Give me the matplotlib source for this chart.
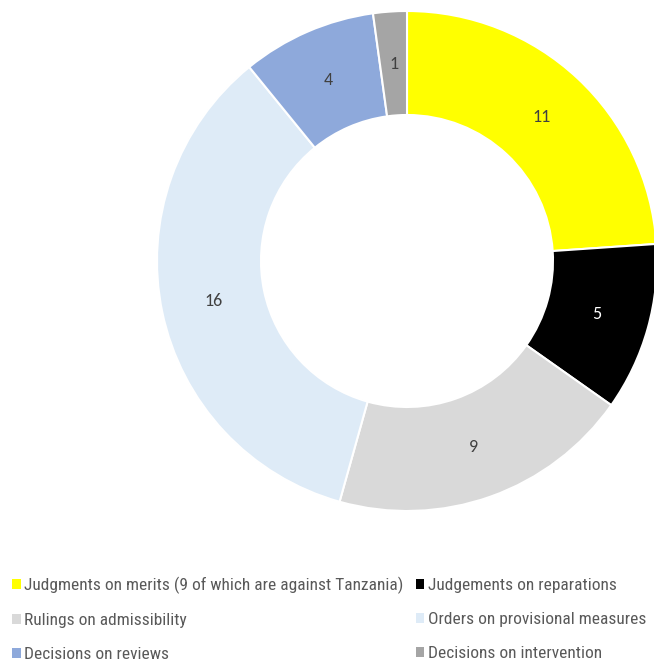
import numpy as np
import matplotlib.pyplot as plt
from matplotlib.patches import Patch

labels = ['Judgments on merits (9 of which are against Tanzania)',
          'Judgements on reparations',
          'Rulings on admissibility',
          'Orders on provisional measures',
          'Decisions on reviews',
          'Decisions on intervention']
counts = [11, 5, 9, 16, 4, 1]
colors = ['#FFFF00', '#000000', '#D9D9D9', '#DEEBF7', '#8EA9DB', '#A5A5A5']
label_colors = ['#404040', '#FFFFFF', '#404040', '#404040', '#404040', '#404040']

fig = plt.figure(figsize=(6.54, 6.62), dpi=100)
ax = fig.add_axes([157 / 654, (662 - 511) / 662, 500 / 654, 500 / 662])

wedges, texts = ax.pie(counts, colors=colors, startangle=90, counterclock=False,
                       radius=1, wedgeprops=dict(width=0.416, edgecolor='white', linewidth=1.5))
for w, c, tc in zip(wedges, counts, label_colors):
    mid = np.deg2rad((w.theta1 + w.theta2) / 2)
    ax.text(0.79 * np.cos(mid), 0.79 * np.sin(mid), str(c), ha='center', va='center',
            fontsize=13, color=tc, family=['Carlito', 'DejaVu Sans'])
ax.set_xlim(-1, 1)
ax.set_ylim(-1, 1)
ax.axis('off')

# legend fills column-wise, so reorder for row-wise reading
order = [0, 2, 4, 1, 3, 5]
handles = [Patch(facecolor=colors[i], edgecolor='none') for i in order]
leg = fig.legend(handles, [labels[i] for i in order], ncol=2, loc='upper left',
                 bbox_to_anchor=(12 / 654, 1 - 577 / 662), frameon=False,
                 prop={'family': ['Roboto Condensed', 'DejaVu Sans'], 'size': 12.5},
                 handlelength=0.5, handleheight=0.5, handletextpad=0.2,
                 columnspacing=0.7, labelspacing=1.08, borderpad=0, borderaxespad=0)
for t in leg.get_texts():
    t.set_color('#595959')

fig.savefig('out.png', dpi=100)
